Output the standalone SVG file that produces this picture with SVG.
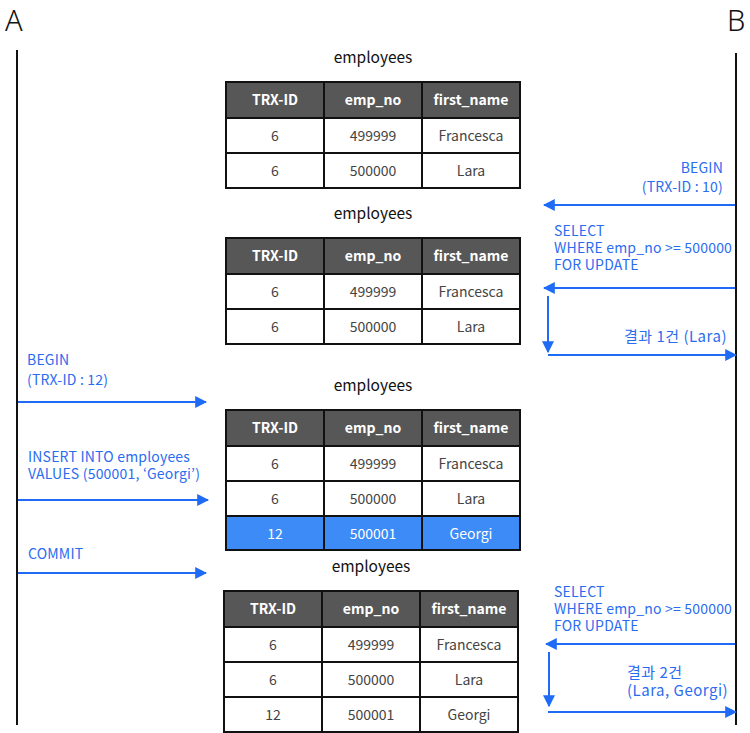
<svg xmlns="http://www.w3.org/2000/svg" width="750" height="733" viewBox="0 0 750 733">
<style>
.lane{stroke:#111;stroke-width:2}
.actor{font-family:"Noto Sans","Noto Sans CJK KR",sans-serif;font-size:29px;font-weight:300;fill:#111}
.title{font-family:"Noto Sans CJK KR","Noto Sans",sans-serif;font-size:15.5px;fill:#111;text-anchor:middle}
.hd{fill:#575757;stroke:#111;stroke-width:2}
.cell{fill:#fff;stroke:#111;stroke-width:2}
.hl{fill:#3d8bf7;stroke:#111;stroke-width:2}
.ht{font-family:"Noto Sans CJK KR","Noto Sans",sans-serif;font-size:14px;font-weight:bold;fill:#fff;text-anchor:middle}
.ct{font-family:"Noto Sans CJK KR","Noto Sans",sans-serif;font-size:14px;fill:#444;text-anchor:middle}
.cw{font-family:"Noto Sans CJK KR","Noto Sans",sans-serif;font-size:14px;fill:#fff;text-anchor:middle}
.msg{font-family:"Noto Sans CJK KR","Noto Sans",sans-serif;font-size:14px;letter-spacing:0.2px;fill:#2a6cf0}
.kr{font-size:15px;letter-spacing:0.5px}
.arr{stroke:#1f6bf5;stroke-width:2;fill:none;marker-end:url(#ah)}
</style>
<defs>
<marker id="ah" viewBox="0 0 10 10" refX="9" refY="5" markerWidth="6" markerHeight="6" orient="auto" markerUnits="strokeWidth">
<path d="M0,0 L10,5 L0,10 z" fill="#1f6bf5"/>
</marker>
</defs>

<!-- actors and lifelines -->
<g id="actor-A">
<text class="actor" x="5" y="31">A</text>
<line class="lane" x1="17" y1="50" x2="17" y2="725"/>
</g>
<g id="actor-B">
<text class="actor" x="727" y="31">B</text>
<line class="lane" x1="736" y1="53" x2="736" y2="725"/>
</g>

<!-- table snapshot 1 -->
<g id="table-1">
<text class="title" x="373" y="63">employees</text>
<rect class="hd" x="226" y="82" width="98" height="36"/><rect class="hd" x="324" y="82" width="98" height="36"/><rect class="hd" x="422" y="82" width="98" height="36"/>
<rect class="cell" x="226" y="118" width="98" height="35"/><rect class="cell" x="324" y="118" width="98" height="35"/><rect class="cell" x="422" y="118" width="98" height="35"/>
<rect class="cell" x="226" y="153" width="98" height="35"/><rect class="cell" x="324" y="153" width="98" height="35"/><rect class="cell" x="422" y="153" width="98" height="35"/>
<text class="ht" x="275" y="105">TRX-ID</text><text class="ht" x="373" y="105">emp_no</text><text class="ht" x="471" y="105">first_name</text>
<text class="ct" x="275" y="141">6</text><text class="ct" x="373" y="141">499999</text><text class="ct" x="471" y="141">Francesca</text>
<text class="ct" x="275" y="176">6</text><text class="ct" x="373" y="176">500000</text><text class="ct" x="471" y="176">Lara</text>
</g>

<!-- table snapshot 2 -->
<g id="table-2">
<text class="title" x="373" y="219">employees</text>
<rect class="hd" x="226" y="238" width="98" height="36"/><rect class="hd" x="324" y="238" width="98" height="36"/><rect class="hd" x="422" y="238" width="98" height="36"/>
<rect class="cell" x="226" y="274" width="98" height="35"/><rect class="cell" x="324" y="274" width="98" height="35"/><rect class="cell" x="422" y="274" width="98" height="35"/>
<rect class="cell" x="226" y="309" width="98" height="35"/><rect class="cell" x="324" y="309" width="98" height="35"/><rect class="cell" x="422" y="309" width="98" height="35"/>
<text class="ht" x="275" y="261">TRX-ID</text><text class="ht" x="373" y="261">emp_no</text><text class="ht" x="471" y="261">first_name</text>
<text class="ct" x="275" y="297">6</text><text class="ct" x="373" y="297">499999</text><text class="ct" x="471" y="297">Francesca</text>
<text class="ct" x="275" y="332">6</text><text class="ct" x="373" y="332">500000</text><text class="ct" x="471" y="332">Lara</text>
</g>

<!-- table snapshot 3 (with inserted row) -->
<g id="table-3">
<text class="title" x="373" y="391">employees</text>
<rect class="hd" x="226" y="410" width="98" height="36"/><rect class="hd" x="324" y="410" width="98" height="36"/><rect class="hd" x="422" y="410" width="98" height="36"/>
<rect class="cell" x="226" y="446" width="98" height="35"/><rect class="cell" x="324" y="446" width="98" height="35"/><rect class="cell" x="422" y="446" width="98" height="35"/>
<rect class="cell" x="226" y="481" width="98" height="35"/><rect class="cell" x="324" y="481" width="98" height="35"/><rect class="cell" x="422" y="481" width="98" height="35"/>
<rect class="hl" x="226" y="516" width="98" height="34"/><rect class="hl" x="324" y="516" width="98" height="34"/><rect class="hl" x="422" y="516" width="98" height="34"/>
<text class="ht" x="275" y="433">TRX-ID</text><text class="ht" x="373" y="433">emp_no</text><text class="ht" x="471" y="433">first_name</text>
<text class="ct" x="275" y="469">6</text><text class="ct" x="373" y="469">499999</text><text class="ct" x="471" y="469">Francesca</text>
<text class="ct" x="275" y="504">6</text><text class="ct" x="373" y="504">500000</text><text class="ct" x="471" y="504">Lara</text>
<text class="cw" x="275" y="539">12</text><text class="cw" x="373" y="539">500001</text><text class="cw" x="471" y="539">Georgi</text>
</g>

<!-- table snapshot 4 (after commit) -->
<g id="table-4">
<text class="title" x="371" y="572">employees</text>
<rect class="hd" x="224" y="591" width="98" height="36"/><rect class="hd" x="322" y="591" width="98" height="36"/><rect class="hd" x="420" y="591" width="98" height="36"/>
<rect class="cell" x="224" y="627" width="98" height="35"/><rect class="cell" x="322" y="627" width="98" height="35"/><rect class="cell" x="420" y="627" width="98" height="35"/>
<rect class="cell" x="224" y="662" width="98" height="35"/><rect class="cell" x="322" y="662" width="98" height="35"/><rect class="cell" x="420" y="662" width="98" height="35"/>
<rect class="cell" x="224" y="697" width="98" height="35"/><rect class="cell" x="322" y="697" width="98" height="35"/><rect class="cell" x="420" y="697" width="98" height="35"/>
<text class="ht" x="273" y="614">TRX-ID</text><text class="ht" x="371" y="614">emp_no</text><text class="ht" x="469" y="614">first_name</text>
<text class="ct" x="273" y="650">6</text><text class="ct" x="371" y="650">499999</text><text class="ct" x="469" y="650">Francesca</text>
<text class="ct" x="273" y="685">6</text><text class="ct" x="371" y="685">500000</text><text class="ct" x="469" y="685">Lara</text>
<text class="ct" x="273" y="720">12</text><text class="ct" x="371" y="720">500001</text><text class="ct" x="469" y="720">Georgi</text>
</g>

<!-- message labels -->
<g id="labels">
<text class="msg" x="723" y="173" text-anchor="end">BEGIN</text>
<text class="msg" x="723" y="192" text-anchor="end">(TRX-ID : 10)</text>
<text class="msg" x="554" y="236">SELECT</text>
<text class="msg" x="554" y="253">WHERE emp_no &gt;= 500000</text>
<text class="msg" x="554" y="270">FOR UPDATE</text>
<text class="msg kr" x="727" y="342" text-anchor="end">결과 1건 (Lara)</text>
<text class="msg" x="27" y="365">BEGIN</text>
<text class="msg" x="27" y="385">(TRX-ID : 12)</text>
<text class="msg" x="28" y="462">INSERT INTO employees</text>
<text class="msg" x="28" y="479">VALUES (500001, ‘Georgi’)</text>
<text class="msg" x="28" y="559">COMMIT</text>
<text class="msg" x="554" y="597">SELECT</text>
<text class="msg" x="554" y="614">WHERE emp_no &gt;= 500000</text>
<text class="msg" x="554" y="631">FOR UPDATE</text>
<text class="msg kr" x="627" y="678">결과 2건</text>
<text class="msg kr" x="627" y="696">(Lara, Georgi)</text>
</g>

<!-- connectors -->
<g id="connectors">
<line class="arr" x1="735" y1="205" x2="544" y2="205"/>
<line class="arr" x1="735" y1="288" x2="544" y2="288"/>
<line class="arr" x1="548" y1="296" x2="548" y2="352"/>
<line class="arr" x1="548" y1="355" x2="736" y2="355"/>
<line class="arr" x1="18" y1="402" x2="206" y2="402"/>
<line class="arr" x1="18" y1="500" x2="208" y2="500"/>
<line class="arr" x1="18" y1="573" x2="206" y2="573"/>
<line class="arr" x1="735" y1="644" x2="546" y2="644"/>
<line class="arr" x1="549" y1="652" x2="549" y2="706"/>
<line class="arr" x1="548" y1="712" x2="736" y2="712"/>
</g>
</svg>
